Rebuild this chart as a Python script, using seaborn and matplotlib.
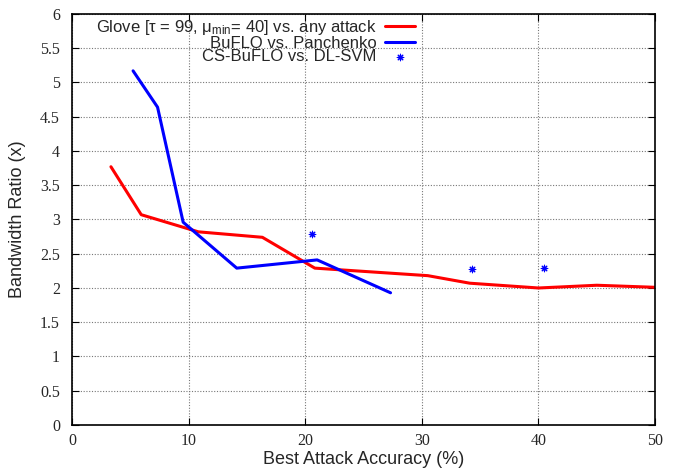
import pandas as pd
import numpy as np
import seaborn as sns
import matplotlib.pyplot as plt
from matplotlib.ticker import FuncFormatter

# data
glove_acc = [3.3, 5.9, 10.8, 16.3, 20.8, 30.5, 34.1, 40.0, 45.0, 50.0]
glove_bw = [3.77, 3.07, 2.82, 2.74, 2.29, 2.18, 2.07, 2.00, 2.04, 2.01]

buflo_acc = [5.2, 7.3, 9.5, 14.1, 21.0, 27.3]
buflo_bw = [5.17, 4.64, 2.96, 2.29, 2.41, 1.93]

csbuflo_acc = [20.6, 34.3, 40.5]
csbuflo_bw = [2.79, 2.28, 2.29]

labels = [r"Glove [τ = 99, μ$_{\mathrm{min}}$= 40] vs. any attack",
          "BuFLO vs. Panchenko",
          "CS-BuFLO vs. DL-SVM"]

sns.set_style("ticks")
plt.rcParams['font.family'] = ['Liberation Sans', 'DejaVu Sans']
plt.rcParams['mathtext.fontset'] = 'custom'
plt.rcParams['mathtext.rm'] = 'Liberation Sans'
plt.rcParams['mathtext.it'] = 'Liberation Sans:italic'

df_glove = pd.DataFrame({'acc': glove_acc, 'bw': glove_bw})
df_buflo = pd.DataFrame({'acc': buflo_acc, 'bw': buflo_bw})
df_cs = pd.DataFrame({'acc': csbuflo_acc, 'bw': csbuflo_bw})

fig = plt.figure(figsize=(6.82, 4.68), dpi=100)
ax = fig.add_axes([0.1063, 0.0919, 0.8541, 0.8782])

sns.lineplot(data=df_glove, x='acc', y='bw', ax=ax, color='#ff0000', lw=2.2,
             sort=False, estimator=None, label=labels[0])
sns.lineplot(data=df_buflo, x='acc', y='bw', ax=ax, color='#0000ff', lw=2.2,
             sort=False, estimator=None, label=labels[1])
sns.scatterplot(data=df_cs, x='acc', y='bw', ax=ax, color='#0000ff',
                marker=(8, 2, 0), s=22, linewidth=0.8, label=labels[2])

ax.set_xlim(0, 50)
ax.set_ylim(0, 6)
ax.set_xticks(np.arange(0, 51, 10))
ax.set_yticks(np.arange(0, 6.01, 0.5))
ax.yaxis.set_major_formatter(FuncFormatter(lambda v, p: '%g' % v))
ax.xaxis.set_major_formatter(FuncFormatter(lambda v, p: '%g' % v))

ax.tick_params(direction='in', top=True, right=True, length=5, width=0.8,
               labelsize=11.5, color='black')
ax.tick_params(axis='y', pad=9)
ax.tick_params(axis='x', pad=6)
for t in ax.get_xticklabels() + ax.get_yticklabels():
    t.set_fontfamily('Liberation Serif')

ax.grid(True, color='#777777', linestyle=(0, (1, 1.5)), linewidth=0.8)
for s in ax.spines.values():
    s.set_linewidth(1.2)
    s.set_color('black')

ax.set_xlabel('Best Attack Accuracy (%)', fontsize=13, labelpad=1)
ax.set_ylabel('Bandwidth Ratio (x)', fontsize=13, labelpad=10)

leg = ax.legend(loc='upper right', bbox_to_anchor=(0.588, 0.99),
                frameon=False, markerfirst=False, fontsize=12,
                handlelength=1.8, handletextpad=0.5, labelspacing=-0.08,
                borderpad=0, borderaxespad=0)

fig.savefig('out.png', dpi=100)
